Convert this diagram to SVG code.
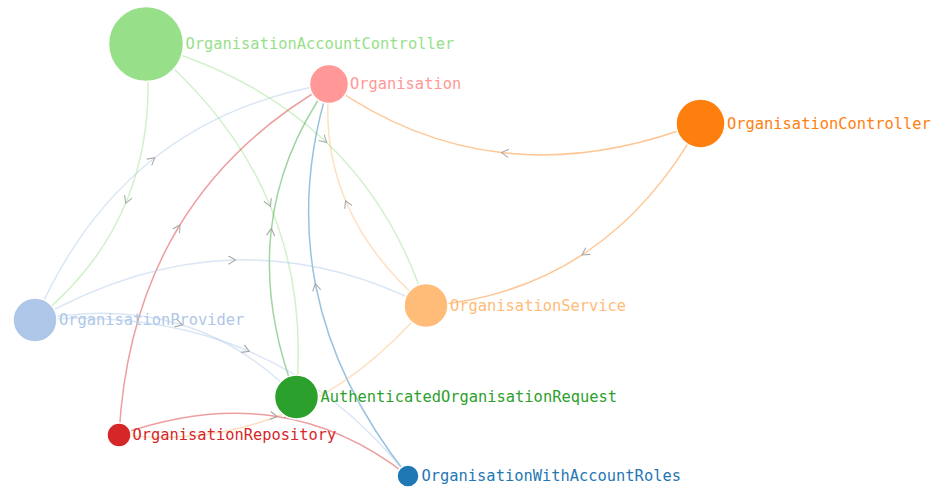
<svg xmlns="http://www.w3.org/2000/svg" width="936" height="488" viewBox="0 0 936 488">
  <style>
    .link { fill: none; stroke-width: 1.5; stroke-opacity: 0.45; marker-mid: url(#chevron); }
    .node circle { stroke: #fff; stroke-width: 1.5; }
    .node text { font-family: "DejaVu Sans Mono", "Liberation Mono", monospace; font-size: 15.4px; }
  </style>
  <defs>
    <!-- open chevron drawn at the middle vertex of every link -->
    <marker id="chevron" viewBox="0 -5 10 10" refX="5" refY="0" markerWidth="9" markerHeight="9" markerUnits="userSpaceOnUse" orient="auto">
      <path d="M1,-4.5 L9,0 L1,4.5" fill="none" stroke="#a8a8a8" stroke-width="1.2"/>
    </marker>
  </defs>
  <rect width="936" height="488" fill="#fff"/>

  <g id="links">
    <!-- OrganisationProvider -> Organisation -->
    <path class="link" stroke="#aec7e8" d="M35,320 Q78.5,219 152,160 Q225.5,101 329,84"/>
    <!-- OrganisationAccountController -> OrganisationProvider -->
    <path class="link" stroke="#98df8a" d="M146,44 Q154.75,131 127,200 Q99.25,269 35,320"/>
    <!-- OrganisationAccountController -> AuthenticatedOrganisationRequest -->
    <path class="link" stroke="#98df8a" d="M146,44 Q231.5,114.75 269,203 Q306.5,291.25 296,397"/>
    <!-- OrganisationAccountController -> OrganisationService -->
    <path class="link" stroke="#98df8a" d="M146,44 Q254,74.5 324,140 Q394,205.5 426,306"/>
    <!-- OrganisationRepository -> Organisation -->
    <path class="link" stroke="#d62728" d="M119,435 Q125.5,315.75 178,228 Q230.5,140.25 329,84"/>
    <!-- AuthenticatedOrganisationRequest -> Organisation -->
    <path class="link" stroke="#2ca02c" d="M296,397 Q262.75,310.25 271,232 Q279.25,153.75 329,84"/>
    <!-- OrganisationWithAccountRoles -> Organisation -->
    <path class="link" stroke="#1f77b4" stroke-opacity="0.55" d="M408,476 Q335.75,385 316,287 Q296.25,189 329,84"/>
    <!-- OrganisationService -> Organisation -->
    <path class="link" stroke="#ffbb78" d="M426,306 Q371.25,259.5 347,204 Q322.75,148.5 329,84"/>
    <!-- OrganisationController -> Organisation -->
    <path class="link" stroke="#ff7f0e" d="M700,123 Q597.75,162.75 505,153 Q412.25,143.25 329,84"/>
    <!-- OrganisationController -> OrganisationService -->
    <path class="link" stroke="#ff7f0e" d="M700,123 Q653.5,207.25 585,253 Q516.5,298.75 426,306"/>
    <!-- OrganisationProvider -> OrganisationService -->
    <path class="link" stroke="#aec7e8" d="M35,320 Q134.25,263.5 232,260 Q329.75,256.5 426,306"/>
    <!-- OrganisationProvider -> AuthenticatedOrganisationRequest -->
    <path class="link" stroke="#aec7e8" d="M35,320 Q113.75,304.75 179,324 Q244.25,343.25 296,397"/>
    <!-- OrganisationProvider -> OrganisationWithAccountRoles -->
    <path class="link" stroke="#aec7e8" d="M35,320 Q152.75,311 246,350 Q339.25,389 408,476"/>
    <!-- OrganisationRepository -> OrganisationService -->
    <path class="link" stroke="#ffbb78" d="M119,435 Q209.5,445 286.25,412.75 Q363,380.5 426,306"/>
    <!-- OrganisationRepository -> OrganisationWithAccountRoles -->
    <path class="link" stroke="#d62728" d="M119,435 Q200.75,405.75 273.75,416 Q345.25,426.25 408,476"/>
  </g>

  <g id="node-OrganisationAccountController" class="node">
    <circle cx="146" cy="44" r="37.5" fill="#98df8a"/>
    <text x="185.5" y="49.4" fill="#98df8a">OrganisationAccountController</text>
  </g>
  <g id="node-Organisation" class="node">
    <circle cx="329" cy="84" r="19.5" fill="#ff9896"/>
    <text x="350" y="89.4" fill="#ff9896">Organisation</text>
  </g>
  <g id="node-OrganisationController" class="node">
    <circle cx="700.5" cy="123.5" r="24.5" fill="#ff7f0e"/>
    <text x="727" y="128.9" fill="#ff7f0e">OrganisationController</text>
  </g>
  <g id="node-OrganisationService" class="node">
    <circle cx="426" cy="305.5" r="22" fill="#ffbb78"/>
    <text x="450" y="311" fill="#ffbb78">OrganisationService</text>
  </g>
  <g id="node-OrganisationProvider" class="node">
    <circle cx="35" cy="320" r="22" fill="#aec7e8"/>
    <text x="59" y="325.4" fill="#aec7e8">OrganisationProvider</text>
  </g>
  <g id="node-AuthenticatedOrganisationRequest" class="node">
    <circle cx="296.5" cy="397" r="22" fill="#2ca02c"/>
    <text x="320.5" y="402.4" fill="#2ca02c">AuthenticatedOrganisationRequest</text>
  </g>
  <g id="node-OrganisationRepository" class="node">
    <circle cx="119" cy="435" r="12" fill="#d62728"/>
    <text x="132.5" y="440.4" fill="#d62728">OrganisationRepository</text>
  </g>
  <g id="node-OrganisationWithAccountRoles" class="node">
    <circle cx="408" cy="476" r="11" fill="#1f77b4"/>
    <text x="421.5" y="481.4" fill="#1f77b4">OrganisationWithAccountRoles</text>
  </g>
</svg>
